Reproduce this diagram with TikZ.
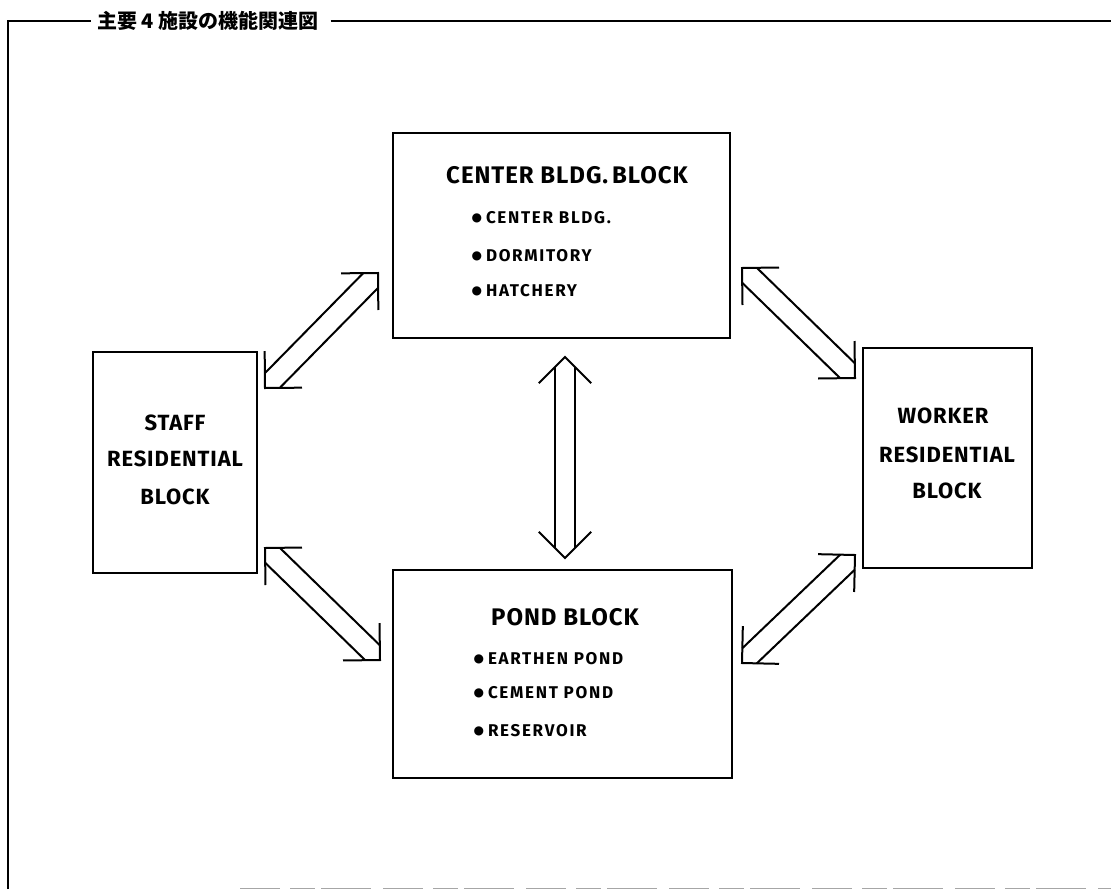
\documentclass[tikz,border=0pt]{standalone}
\usepackage{fontspec}
\newfontfamily\labfont{Fira Sans}[LetterSpace=10, UprightFont=* Bold]
\newfontfamily\headfont{Fira Sans}[LetterSpace=4, UprightFont=* Bold]
\newfontfamily\symfont{DejaVu Sans}
\newfontfamily\jpfont{Noto Sans CJK JP}
\usetikzlibrary{calc}
\tikzset{
  blockbox/.style={draw, line width=2.2pt, minimum width=#1, inner sep=0pt},
  frameline/.style={line width=2pt, line join=miter},
  fatarr/.style={line width=2pt, line join=miter, line cap=butt},
  headtext/.style={font=\headfont\fontsize{24}{24}\selectfont, anchor=base},
  itemtext/.style={font=\labfont\fontsize{17}{17}\selectfont, anchor=base west},
  sidetext/.style={font=\headfont\fontsize{22}{22}\selectfont, anchor=base}
}
\newcommand\itm[1]{\raisebox{1.2pt}{\symfont\fontsize{12}{12}\selectfont ●}\hspace{4pt}#1}
\newcommand\twinarrow[2]{%
  \draw[fatarr] ($(#1)!14.8pt!45:(#2)$) -- ($(#2)!14.8pt!-45:(#1)$);
  \draw[fatarr] ($(#1)!14.8pt!-45:(#2)$) -- ($(#2)!14.8pt!45:(#1)$);
  \draw[fatarr] ($(#1)!37pt!45:(#2)$) -- (#1) -- ($(#1)!37pt!-45:(#2)$);
  \draw[fatarr] ($(#2)!37pt!45:(#1)$) -- (#2) -- ($(#2)!37pt!-45:(#1)$);
}
\begin{document}
\begin{tikzpicture}[x=1pt,y=-1pt]
\useasboundingbox (0,0) rectangle (1111,889);
% frame and title
\node[font=\jpfont\bfseries\fontsize{20}{20}\selectfont, anchor=base west, inner sep=0pt] (title) at (97,28) {主要 4 施設の機能関連図};
\coordinate (fbl) at (8,889);
\coordinate (ftl) at (8,21);
\coordinate (ftr) at (1111,21);
\draw[frameline] (fbl) -- (ftl) -- ([xshift=-6pt]title.west |- ftl);
\draw[frameline] ([xshift=12pt]title.east |- ftl) -- (ftr);
\coordinate (bbl) at (240,888);
\coordinate (bbr) at (1111,888);
\draw[gray!70, line width=0.8pt, dash pattern=on 40pt off 10pt on 25pt off 6pt on 50pt off 12pt] (bbl) -- (bbr);
% blocks
\node[blockbox=337pt, minimum height=205pt] (center) at (561.5,235.5) {};
\node[blockbox=339pt, minimum height=208pt] (pond) at (562.5,674) {};
\node[blockbox=164pt, minimum height=221pt] (staff) at (175,462.5) {};
\node[blockbox=169pt, minimum height=220pt] (worker) at (947.5,458) {};
% texts
\node[headtext] (ct) at (567,183.5) {CENTER BLDG.\,BLOCK};
\node[itemtext] (c1) at (468,223) {\itm{CENTER BLDG.}};
\node[itemtext] (c2) at (468,261) {\itm{DORMITORY}};
\node[itemtext] (c3) at (468,296) {\itm{HATCHERY}};
\node[headtext] (pt) at (565,625) {POND BLOCK};
\node[itemtext] (p1) at (470,664) {\itm{EARTHEN POND}};
\node[itemtext] (p2) at (470,698) {\itm{CEMENT POND}};
\node[itemtext] (p3) at (470,736) {\itm{RESERVOIR}};
\node[sidetext] (s1) at (175,430) {STAFF};
\node[sidetext] (s2) at (175,466) {RESIDENTIAL};
\node[sidetext] (s3) at (175,504) {BLOCK};
\node[sidetext] (w1) at (943,423) {WORKER};
\node[sidetext] (w2) at (947,462) {RESIDENTIAL};
\node[sidetext] (w3) at (947,498) {BLOCK};
% arrows
\coordinate (a1s) at (265,388); \coordinate (a1e) at (378,273);
\coordinate (a2s) at (742,268); \coordinate (a2e) at (855,378);
\coordinate (a3s) at (265,548); \coordinate (a3e) at (380,660);
\coordinate (a4s) at (742,663); \coordinate (a4e) at (855,555);
\coordinate (a5s) at (565,357); \coordinate (a5e) at (565,558);
\twinarrow{a1s}{a1e}
\twinarrow{a2s}{a2e}
\twinarrow{a3s}{a3e}
\twinarrow{a4s}{a4e}
\twinarrow{a5s}{a5e}
\end{tikzpicture}
\end{document}
